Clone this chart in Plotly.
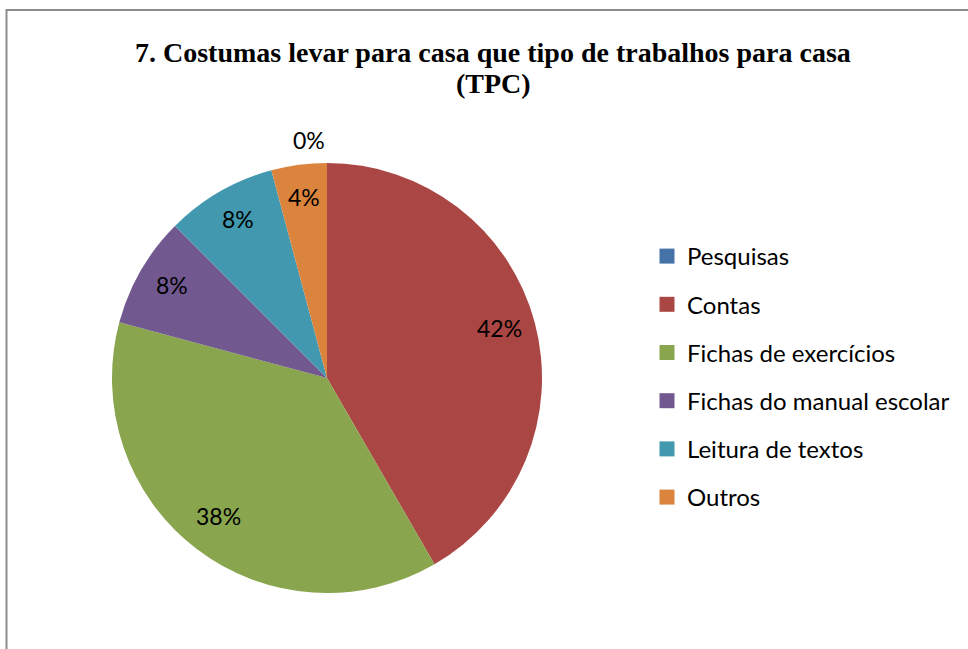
import numpy as np
import plotly.graph_objects as go

# ---- data ----
categories = ["Pesquisas", "Contas", "Fichas de exercícios",
              "Fichas do manual escolar", "Leitura de textos", "Outros"]
counts = [0, 10, 9, 2, 2, 1]
colors = ["#4572A7", "#AA4643", "#89A54E", "#71588F", "#4198AF", "#DB843D"]
title_lines = ["7. Costumas levar para casa que tipo de trabalhos para casa", "(TPC)"]

# ---- layout geometry ----
W, H = 968, 649
dom_x = [112 / W, 542 / W]
dom_y = [56 / H, 486 / H]
cx = (dom_x[0] + dom_x[1]) / 2
cy = (dom_y[0] + dom_y[1]) / 2
R = (dom_x[1] - dom_x[0]) * W / 2  # radius in px

LABEL_FONT = dict(family="Lato, Open Sans, sans-serif", size=23, color="#000000")
LEGEND_FONT = dict(family="Lato, Open Sans, sans-serif", size=24, color="#000000")
TITLE_FONT = dict(family="Liberation Serif, Times New Roman, serif", size=28, color="#000000")

fig = go.Figure()
fig.add_trace(go.Pie(
    labels=categories, values=counts, sort=False, direction="clockwise",
    rotation=0, marker=dict(colors=colors, line=dict(width=0)),
    textinfo="none", hoverinfo="label+percent", showlegend=False,
    domain=dict(x=dom_x, y=dom_y),
))

# dummy traces for the legend (allow spacing between entries)
for i, (lab, col) in enumerate(zip(categories, colors)):
    fig.add_trace(go.Scatter(
        x=[None], y=[None], mode="markers", name=lab,
        marker=dict(symbol="square", size=15, color=col),
        legendgroup=f"g{i}", showlegend=True,
    ))

# data labels computed from the values
total = float(sum(counts))
cum = np.cumsum([0] + counts[:-1])
annotations = []
for c0, v in zip(cum, counts):
    pct = v / total
    theta = 2 * np.pi * (c0 + v / 2) / total
    if v == 0:
        r = 1.09 * R
        xa = "right"
    else:
        r = 0.83 * R
        xa = "center"
    ax = cx + r * np.sin(theta) / W
    ay = cy + r * np.cos(theta) / H + 4 / H
    annotations.append(dict(
        x=ax, y=ay, xref="paper", yref="paper", text=f"{pct:.0%}",
        showarrow=False, xanchor=xa, yanchor="middle", font=LABEL_FONT,
    ))

# title (two lines, tight Word-like line spacing)
for k, line in enumerate(title_lines):
    annotations.append(dict(
        x=493 / W, y=1 - (52 + 32 * k) / H, xref="paper", yref="paper",
        text=f"<b>{line}</b>", showarrow=False, xanchor="center",
        yanchor="middle", font=TITLE_FONT,
    ))

fig.update_layout(
    width=W, height=H,
    margin=dict(l=0, r=0, t=0, b=0),
    paper_bgcolor="white", plot_bgcolor="white",
    xaxis=dict(visible=False), yaxis=dict(visible=False),
    legend=dict(x=647 / W, y=1 - 234 / H, xanchor="left", yanchor="top",
                font=LEGEND_FONT, tracegroupgap=14, itemsizing="trace",
                bgcolor="rgba(0,0,0,0)"),
    annotations=annotations,
    shapes=[dict(type="rect", xref="paper", yref="paper",
                 x0=6.5 / W, x1=1.05, y0=-0.05, y1=1 - 10 / H,
                 line=dict(color="#8C8C8C", width=2))],
)

fig.write_html("out.html", config={"displayModeBar": False},
               post_script="document.body.style.margin='0';")
